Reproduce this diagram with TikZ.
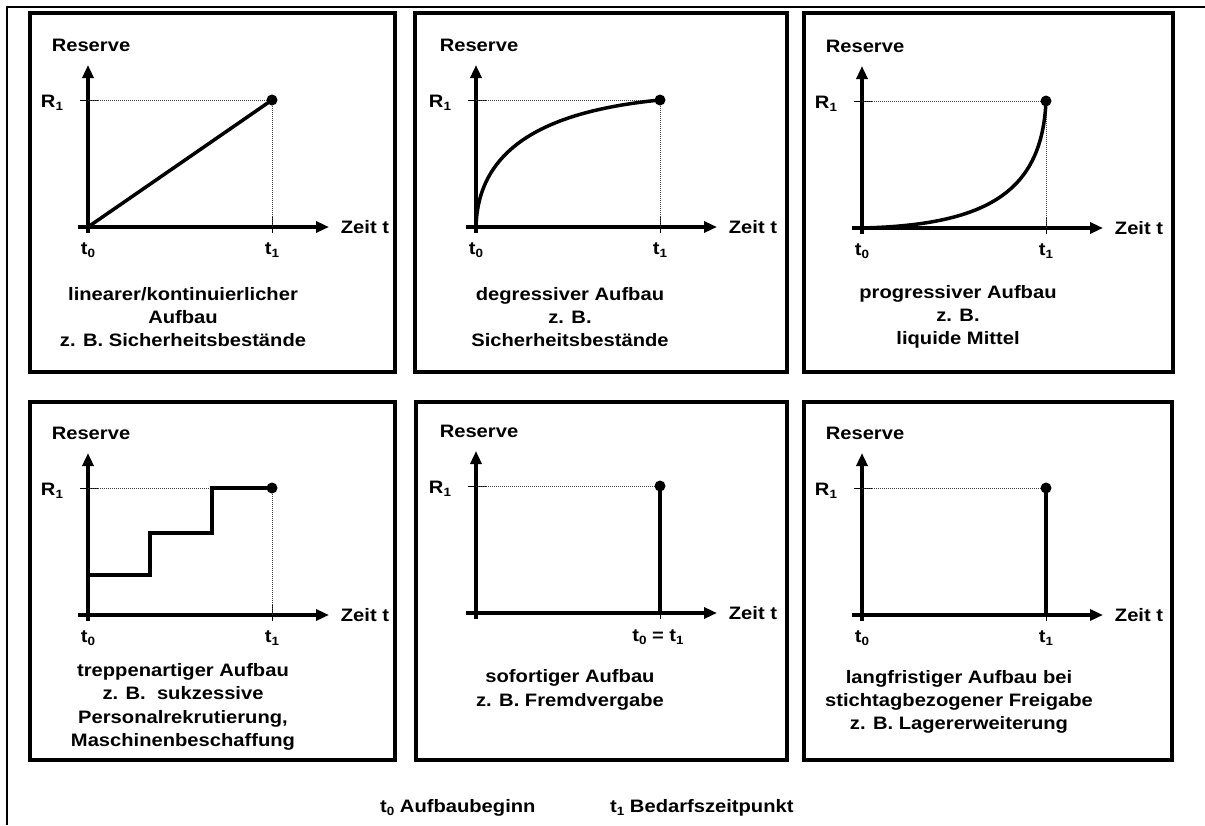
\documentclass[tikz,border=0pt]{standalone}
\usepackage{fontspec}
\setmainfont{Liberation Sans}[FakeStretch=1.12]
\usetikzlibrary{arrows.meta}
% lowered, smaller index digit
\newcommand\sbs[1]{\raisebox{-0.3ex}{\fontsize{12}{12}\selectfont #1}}

\begin{document}
\begin{tikzpicture}[x=1pt,y=-1pt,
  panel/.style={draw, line width=4pt},
  axisline/.style={line width=3.5pt, -{Triangle[length=13pt,width=11pt]}},
  graph/.style={line width=3.5pt},
  guide/.style={line width=0.9pt, dash pattern=on 1pt off 1pt, black!75},
  tickline/.style={line width=1pt},
  lbl/.style={font=\fontsize{18}{20}\selectfont\bfseries, inner sep=0pt},
  desc/.style={inner sep=0pt, align=center, font=\fontsize{18}{23.3}\selectfont\bfseries},
  endpt/.style={circle, fill, inner sep=0pt, minimum size=11pt},
  axes/.pic={
    \coordinate (-o) at (0,0);
    \coordinate (-top) at (0,-162);
    \coordinate (-bot) at (0,6);
    \coordinate (-xl) at (-10,0);
    \coordinate (-xr) at (241,0);
    \coordinate (-r) at (0,-127);
    \coordinate (-t1) at (184,0);
    \coordinate (-p) at (184,-127);
    \draw[axisline] (-bot) -- (-top);
    \draw[axisline] (-xl) -- (-xr);
    \draw[tickline] (-8,-127) -- (10,-127);
    \draw[tickline] (184,-10) -- (184,6);
    \node[lbl] (-res) at (3,-182) {Reserve};
    \node[lbl] (-rl) at (-36,-124) {R\sbs{1}};
    \node[lbl] (-zeit) at (277,0) {Zeit t};
  }]
\useasboundingbox (0,0) rectangle (1205,825);

% outer frame (top and left edge)
\draw[line width=2pt] (7,825) -- (7,7) -- (1205,7);

% panel boxes
\draw[panel] (30,13) rectangle (395,372);
\draw[panel] (415,13) rectangle (787,372);
\draw[panel] (804,13) rectangle (1173,372);
\draw[panel] (30,402) rectangle (395,760);
\draw[panel] (416,402) rectangle (787,760);
\draw[panel] (804,402) rectangle (1172,760);

% linear build-up
\begin{scope}[shift={(88,227)}]
  \pic (a) {axes};
  \draw[guide] (a-r) -- (a-p) -- (a-t1);
  \draw[graph] (a-o) -- (a-p);
  \node[endpt] (a-dot) at (a-p) {};
  \node[lbl] (a-t0) at (0,23) {t\sbs{0}};
  \node[lbl] (a-t1l) at (184,23) {t\sbs{1}};
  \node[desc] (a-desc) at (95,90) {linearer/kontinuierlicher\\Aufbau\\z. B. Sicherheitsbestände};
\end{scope}

% degressive build-up
\begin{scope}[shift={(476,227)}]
  \pic (b) {axes};
  \draw[guide] (b-r) -- (b-p) -- (b-t1);
  \draw[graph] (b-o) .. controls (2,-87) and (84,-117) .. (b-p);
  \node[endpt] (b-dot) at (b-p) {};
  \node[lbl] (b-t0) at (0,23) {t\sbs{0}};
  \node[lbl] (b-t1l) at (184,23) {t\sbs{1}};
  \node[desc] (b-desc) at (94,90) {degressiver Aufbau\\z. B.\\Sicherheitsbestände};
\end{scope}

% progressive build-up
\begin{scope}[shift={(862,228)}]
  \pic (c) {axes};
  \draw[guide] (c-r) -- (c-p) -- (c-t1);
  \draw[graph] (c-o) .. controls (128,-3) and (180,-38) .. (c-p);
  \node[endpt] (c-dot) at (c-p) {};
  \node[lbl] (c-t0) at (0,23) {t\sbs{0}};
  \node[lbl] (c-t1l) at (184,23) {t\sbs{1}};
  \node[desc] (c-desc) at (96,89) {progressiver Aufbau\\z. B.\\liquide Mittel};
\end{scope}

% step-wise build-up
\begin{scope}[shift={(88,615)}]
  \pic (d) {axes};
  \draw[guide] (d-r) -- (d-p) -- (d-t1);
  \draw[graph] (0,-40) -- (62,-40) -- (62,-82) -- (124,-82) -- (124,-127) -- (d-p);
  \node[endpt] (d-dot) at (d-p) {};
  \node[lbl] (d-t0) at (0,23) {t\sbs{0}};
  \node[lbl] (d-t1l) at (184,23) {t\sbs{1}};
  \node[desc] (d-desc) at (95,92)
    {treppenartiger Aufbau\\z. B.\ \ sukzessive\\Personalrekrutierung,\\Maschinenbeschaffung};
\end{scope}

% immediate build-up
\begin{scope}[shift={(476,613)}]
  \pic (e) {axes};
  \draw[guide] (e-r) -- (e-p);
  \draw[graph] (e-t1) -- (e-p);
  \node[endpt] (e-dot) at (e-p) {};
  \node[lbl] (e-t01) at (182,24) {t\sbs{0} = t\sbs{1}};
  \node[desc] (e-desc) at (94,77) {sofortiger Aufbau\\z. B. Fremdvergabe};
\end{scope}

% long-term build-up, released on a fixed date
\begin{scope}[shift={(862,615)}]
  \pic (f) {axes};
  \draw[guide] (f-r) -- (f-p);
  \draw[graph] (f-t1) -- (f-p);
  \node[endpt] (f-dot) at (f-p) {};
  \node[lbl] (f-t0) at (0,23) {t\sbs{0}};
  \node[lbl] (f-t1l) at (184,23) {t\sbs{1}};
  \node[desc] (f-desc) at (97,87)
    {langfristiger Aufbau bei\\stichtagbezogener Freigabe\\z. B. Lagererweiterung};
\end{scope}

% legend
\node[lbl, anchor=west] (leg0) at (380,808) {t\sbs{0} Aufbaubeginn};
\node[lbl, anchor=west] (leg1) at (610,808) {t\sbs{1} Bedarfszeitpunkt};
\end{tikzpicture}
\end{document}
